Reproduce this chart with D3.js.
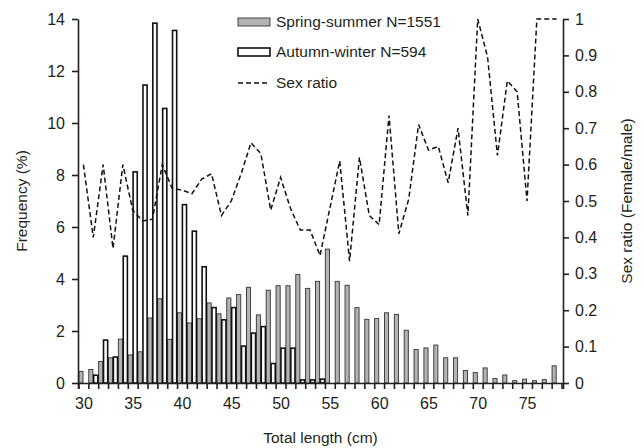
<!DOCTYPE html>
<html>
<head>
<meta charset="utf-8">
<title>Total length frequency and sex ratio</title>
<script src="https://d3js.org/d3.v7.min.js"></script>
<style>
  body { margin: 0; background: #fff; }
  svg text { font-family: "Liberation Sans", Arial, sans-serif; fill: #231f20; }
</style>
</head>
<body>
<svg width="644" height="448"></svg>
<script>
// total length classes (cm)
var lengths = d3.range(30, 79);

// frequency (%) per length class
var springSummer = [0.45, 0.52, 0.83, 0.97, 1.69, 1.08, 1.2, 2.5, 3.24, 1.68,
  2.7, 2.31, 2.47, 3.08, 2.66, 3.27, 3.4, 3.68, 2.62, 3.57,
  3.74, 3.74, 4.17, 3.64, 3.91, 5.15, 3.91, 3.76, 2.9, 2.45,
  2.48, 2.7, 2.64, 2.03, 1.29, 1.35, 1.46, 0.97, 0.97, 0.48,
  0.4, 0.58, 0.17, 0.31, 0.09, 0.15, 0.09, 0.13, 0.66];

var autumnWinter = [0, 0.3, 1.65, 1.0, 4.88, 8.12, 11.46, 13.84, 10.56, 13.56,
  6.86, 5.84, 4.47, 2.9, 2.43, 2.9, 1.42, 1.92, 2.17, 0.75,
  1.34, 1.34, 0.12, 0.12, 0.15, 0, 0, 0, 0, 0,
  0, 0, 0, 0, 0, 0, 0, 0, 0, 0,
  0, 0, 0, 0, 0, 0, 0, 0, 0];

// sex ratio (female/male)
var sexRatio = [0.6, 0.4, 0.6, 0.37, 0.6, 0.475, 0.445, 0.45, 0.6, 0.535,
  0.53, 0.52, 0.56, 0.575, 0.46, 0.5, 0.575, 0.66, 0.63, 0.475,
  0.565, 0.48, 0.42, 0.42, 0.35, 0.48, 0.61, 0.335, 0.62, 0.46,
  0.435, 0.735, 0.41, 0.505, 0.71, 0.64, 0.65, 0.55, 0.7, 0.46,
  1.0, 0.895, 0.625, 0.83, 0.8, 0.5, 1.0, 1.0, 1.0];

var xTicks = [30, 35, 40, 45, 50, 55, 60, 65, 70, 75];
var leftTicks = [0, 2, 4, 6, 8, 10, 12, 14];
var rightTicks = [0, 0.1, 0.2, 0.3, 0.4, 0.5, 0.6, 0.7, 0.8, 0.9, 1];

var seriesNames = ["Spring-summer N=1551", "Autumn-winter N=594", "Sex ratio"];

var svg = d3.select("svg"),
    margin = {top: 19, right: 81, bottom: 65, left: 78},
    width = +svg.attr("width") - margin.left - margin.right,
    height = +svg.attr("height") - margin.top - margin.bottom;

var x = d3.scaleLinear().domain([29.45, 78.65]).range([0, width]);
var yL = d3.scaleLinear().domain([0, 14]).range([height, 0]);
var yR = d3.scaleLinear().domain([0, 1]).range([height, 0]);

var g = svg.append("g")
  .attr("transform", "translate(" + margin.left + "," + margin.top + ")");

var barW = x(30.42) - x(30);

// spring-summer bars (grey, left of each class)
g.selectAll(".ss")
  .data(lengths)
  .enter().append("rect")
  .attr("class", "ss")
  .attr("x", function(d) { return x(d - 0.25) - barW / 2; })
  .attr("y", function(d, i) { return yL(springSummer[i]); })
  .attr("width", barW)
  .attr("height", function(d, i) { return height - yL(springSummer[i]); })
  .attr("fill", "#b3b3b3")
  .attr("stroke", "#333")
  .attr("stroke-width", 0.9);

// autumn-winter bars (white, right of each class)
g.selectAll(".aw")
  .data(lengths.filter(function(d, i) { return autumnWinter[i] > 0; }))
  .enter().append("rect")
  .attr("class", "aw")
  .attr("x", function(d) { return x(d + 0.25) - barW / 2; })
  .attr("y", function(d) { return yL(autumnWinter[d - 30]); })
  .attr("width", barW)
  .attr("height", function(d) { return height - yL(autumnWinter[d - 30]); })
  .attr("fill", "#fff")
  .attr("stroke", "#111")
  .attr("stroke-width", 1.6);

// sex ratio line
var line = d3.line()
  .x(function(d) { return x(d); })
  .y(function(d, i) { return yR(sexRatio[i]); });

g.append("path")
  .datum(lengths)
  .attr("d", line)
  .attr("fill", "none")
  .attr("stroke", "#111")
  .attr("stroke-width", 1.5)
  .attr("stroke-dasharray", "5,3");

// axes
g.append("g")
  .attr("transform", "translate(0," + height + ")")
  .call(d3.axisBottom(x).tickValues(d3.range(29.5, 79, 1)).tickSize(6).tickFormat(""));

g.append("g")
  .attr("transform", "translate(0," + height + ")")
  .call(d3.axisBottom(x).tickValues(xTicks).tickSize(0).tickPadding(15).tickFormat(d3.format("d")))
  .call(function(a) { a.select(".domain").remove(); });

g.append("g")
  .call(d3.axisLeft(yL).tickValues(leftTicks).tickSize(6).tickPadding(7).tickSizeOuter(0));

g.append("g")
  .attr("transform", "translate(" + width + ",0)")
  .call(d3.axisRight(yR).tickValues(rightTicks).tickSize(6).tickPadding(6).tickSizeOuter(0)
    .tickFormat(function(d) { return d === 0 || d === 1 ? d3.format("d")(d) : d3.format(".1f")(d); }));

svg.selectAll(".domain, .tick line").attr("stroke", "#231f20").attr("stroke-width", 1.6);
svg.selectAll(".tick text").attr("font-size", 16).attr("fill", "#231f20")
  .style("font-family", "Liberation Sans, Arial, sans-serif");

// axis titles
svg.append("text")
  .attr("x", margin.left + width / 2)
  .attr("y", 443)
  .attr("text-anchor", "middle")
  .attr("font-size", 15.5)
  .text("Total length (cm)");

svg.append("text")
  .attr("transform", "translate(27," + (margin.top + height / 2) + ") rotate(-90)")
  .attr("text-anchor", "middle")
  .attr("font-size", 15.5)
  .text("Frequency (%)");

svg.append("text")
  .attr("transform", "translate(632," + (margin.top + height / 2) + ") rotate(-90)")
  .attr("text-anchor", "middle")
  .attr("font-size", 15.5)
  .text("Sex ratio (Female/male)");

// legend
var legend = svg.append("g").attr("transform", "translate(238,0)");
var rowY = [22, 52, 83];

legend.append("rect")
  .attr("x", 0).attr("y", rowY[0] - 4).attr("width", 32).attr("height", 8)
  .attr("fill", "#b3b3b3").attr("stroke", "#333").attr("stroke-width", 0.9);
legend.append("rect")
  .attr("x", 0).attr("y", rowY[1] - 4).attr("width", 32).attr("height", 8)
  .attr("fill", "#fff").attr("stroke", "#111").attr("stroke-width", 1.6);
legend.append("line")
  .attr("x1", 0).attr("x2", 32).attr("y1", rowY[2]).attr("y2", rowY[2])
  .attr("stroke", "#111").attr("stroke-width", 1.5).attr("stroke-dasharray", "5,3");

legend.selectAll(".lt")
  .data(seriesNames)
  .enter().append("text")
  .attr("class", "lt")
  .attr("x", 38)
  .attr("y", function(d, i) { return rowY[i]; })
  .attr("dy", "0.35em")
  .attr("font-size", 15.5)
  .text(function(d) { return d; });
</script>
</body>
</html>
